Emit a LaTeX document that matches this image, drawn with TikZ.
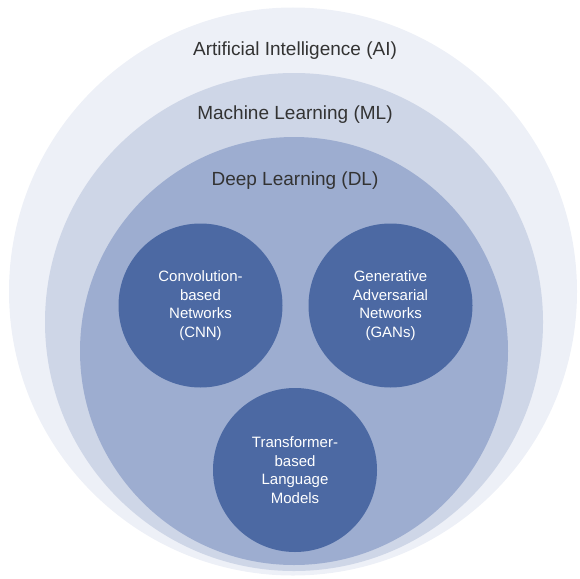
\documentclass[tikz,border=0pt]{standalone}
\usepackage{fontspec}
\setmainfont{Liberation Sans}
\definecolor{aifill}{HTML}{EDF0F7}
\definecolor{mlfill}{HTML}{CED6E7}
\definecolor{dlfill}{HTML}{9DADD0}
\definecolor{corefill}{HTML}{4C69A3}
\definecolor{headtext}{HTML}{333333}
\tikzset{
  ring/.style={circle, inner sep=0pt, draw=none},
  heading/.style={text=headtext, font=\fontsize{19}{22}\selectfont, inner sep=0pt},
  core/.style={ring, fill=corefill, minimum size=164pt, text=white, align=center,
    font=\fontsize{15}{18.5}\selectfont},
}
\begin{document}
\begin{tikzpicture}[x=1pt, y=-1pt]
  \useasboundingbox (0,0) rectangle (580,578);
  % nested fields
  \node[ring, fill=aifill, minimum size=568pt] (ai) at (293,291.5) {};
  \node[ring, fill=mlfill, minimum size=498pt] (ml) at (294,322) {};
  \node[ring, fill=dlfill, minimum size=428pt] (dl) at (294,351) {};
  % field titles
  \node[heading] (aititle) at (295,51) {Artificial Intelligence (AI)};
  \node[heading] (mltitle) at (295,115) {Machine Learning (ML)};
  \node[heading] (dltitle) at (295,181) {Deep Learning (DL)};
  % deep learning families
  \node[core] (cnn) at (200.5,305.5) {Convolution-\\based\\Networks\\(CNN)};
  \node[core] (gan) at (390.5,305.5) {Generative\\Adversarial\\Networks\\(GANs)};
  \node[core] (tlm) at (295,470) {Transformer-\\based\\Language\\Models};
\end{tikzpicture}
\end{document}
